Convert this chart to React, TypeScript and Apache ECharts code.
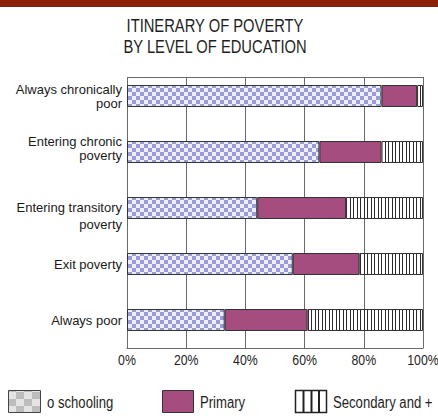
import React, { useEffect, useRef } from "react";
import * as echarts from "echarts";

const categories = [
  "Always chronically\npoor",
  "Entering chronic\npoverty",
  "Entering transitory\npoverty",
  "Exit poverty",
  "Always poor",
];
const noSchooling = [86, 65, 44, 56, 33];
const primary = [12, 21, 30, 22.5, 28];
const secondary = [2, 14, 26, 21.5, 39];
const xTicks = [0, 20, 40, 60, 80, 100];
const legendNames = ["o schooling", "Primary", "Secondary and +"];
const titleLines = ["ITINERARY OF POVERTY", "BY LEVEL OF EDUCATION"];

const FONT = "'Liberation Sans', Arial, Helvetica, sans-serif";
const NARROW_SCALE = 0.82;
const GRID = { left: 127, right: 15, top: 68, bottom: 68 };

function makeChecker(cell: number, cellH: number, c1: string, c2: string) {
  const cv = document.createElement("canvas");
  cv.width = cell * 2;
  cv.height = cellH * 2;
  const ctx = cv.getContext("2d")!;
  ctx.fillStyle = c2;
  ctx.fillRect(0, 0, cv.width, cv.height);
  ctx.fillStyle = c1;
  ctx.fillRect(0, 0, cell, cellH);
  ctx.fillRect(cell, cellH, cell, cellH);
  return cv;
}

function makeStripes() {
  const cv = document.createElement("canvas");
  cv.width = 7;
  cv.height = 4;
  const ctx = cv.getContext("2d")!;
  ctx.fillStyle = "#ffffff";
  ctx.fillRect(0, 0, 7, 4);
  ctx.fillStyle = "#2a2a2a";
  ctx.fillRect(0, 0, 1, 4);
  ctx.fillRect(3, 0, 1, 4);
  return cv;
}

function narrowText(x: number, y: number, text: string, size: number, align: string) {
  return {
    type: "text",
    x,
    y,
    scaleX: NARROW_SCALE,
    z: 100,
    style: {
      text,
      fontFamily: FONT,
      fontSize: size,
      fill: "#1e1e1e",
      textAlign: align,
      textVerticalAlign: "middle",
      verticalAlign: "middle",
    },
  };
}

export default function App() {
  const ref = useRef<HTMLDivElement>(null);
  useEffect(() => {
    if (!ref.current) return;
    const chart = echarts.init(ref.current, null, { renderer: "svg" });
    const blueChecker = { image: makeChecker(4, 4, "#9a9bd8", "#eeeffb"), repeat: "repeat" };
    const grayChecker = { image: makeChecker(8, 7, "#bdbdbd", "#e4e4e4"), repeat: "repeat" };
    const stripes = { image: makeStripes(), repeat: "repeat" };

    const barBase = {
      type: "bar",
      stack: "total",
      barWidth: 22,
      itemStyle: { borderColor: "#333", borderWidth: 1 },
    };

    const labelFormatter = (value: string, index: number) => {
      const lines = value.split("\n");
      if (index === 1) return lines.map((l) => "{n|" + l + "}").join("\n") + "\n{s7| }";
      if (index === 2) return "{s15| }\n" + lines.map((l) => "{t|" + l + "}").join("\n");
      return lines.map((l) => "{n|" + l + "}").join("\n");
    };

    const base = { fontFamily: FONT, fontSize: 13, color: "#1a1a1a" };

    chart.setOption({
      animation: false,
      backgroundColor: "#ffffff",
      grid: { ...GRID, containLabel: false, outerBoundsMode: "none" },
      xAxis: {
        type: "value",
        min: 0,
        max: 100,
        interval: 20,
        axisLine: { show: true, lineStyle: { color: "#6a6a6a", width: 1 } },
        axisTick: { show: false },
        splitLine: { show: true, lineStyle: { color: "#6a6a6a", width: 1 } },
        axisLabel: { show: false },
      },
      yAxis: {
        type: "category",
        inverse: true,
        data: categories,
        axisLine: { show: true, lineStyle: { color: "#6a6a6a", width: 1 } },
        axisTick: { show: false },
        axisLabel: {
          ...base,
          lineHeight: 14,
          margin: 5,
          formatter: labelFormatter,
          rich: {
            n: { ...base, lineHeight: 14 },
            t: { ...base, lineHeight: 17 },
            s7: { fontSize: 1, lineHeight: 7 },
            s15: { fontSize: 1, lineHeight: 15 },
          },
        },
      },
      series: [
        { ...barBase, name: legendNames[0], data: noSchooling, itemStyle: { ...barBase.itemStyle, color: blueChecker } },
        { ...barBase, name: legendNames[1], data: primary, itemStyle: { ...barBase.itemStyle, color: "#a64d7f" } },
        { ...barBase, name: legendNames[2], data: secondary, itemStyle: { ...barBase.itemStyle, color: stripes } },
      ],
    });

    const axisY = 416 - GRID.bottom;
    const tickLabels = xTicks.map((v) => {
      const px = chart.convertToPixel({ xAxisIndex: 0 }, v) as number;
      return narrowText(px, axisY + 12, v + "%", 15, "center");
    });
    const x0 = chart.convertToPixel({ xAxisIndex: 0 }, 0) as number;
    const x100 = chart.convertToPixel({ xAxisIndex: 0 }, 100) as number;

    chart.setOption({
      graphic: [
        { type: "rect", shape: { x: 0, y: 0, width: 438, height: 7 }, style: { fill: "#8b1f08" }, z: 100 },
        { type: "rect", shape: { x: x0 - 3, y: 64, width: x100 - x0 + 8, height: 13 }, style: { fill: "#ffffff" }, z: 100 },
        { type: "line", shape: { x1: x0, y1: 77.5, x2: x100 + 0.5, y2: 77.5 }, style: { stroke: "#6a6a6a", lineWidth: 1 }, z: 100 },
        narrowText(215, 25.5, titleLines[0], 18, "center"),
        narrowText(215, 46.5, titleLines[1], 18, "center"),
        ...tickLabels,
        // legend
        { type: "rect", shape: { x: 8.5, y: 390.5, width: 32, height: 22 }, style: { fill: grayChecker, stroke: "#444", lineWidth: 1 }, z: 100 },
        narrowText(47, 402.5, legendNames[0], 16, "left"),
        { type: "rect", shape: { x: 162.5, y: 390.5, width: 31, height: 22 }, style: { fill: "#a64d7f", stroke: "#333", lineWidth: 1 }, z: 100 },
        narrowText(200, 402.5, legendNames[1], 16, "left"),
        { type: "rect", shape: { x: 295.5, y: 390.5, width: 31, height: 22 }, style: { fill: "#ffffff", stroke: "#222", lineWidth: 1.5 }, z: 100 },
        { type: "line", shape: { x1: 303.5, y1: 390.5, x2: 303.5, y2: 412.5 }, style: { stroke: "#222", lineWidth: 2 }, z: 101 },
        { type: "line", shape: { x1: 311.5, y1: 390.5, x2: 311.5, y2: 412.5 }, style: { stroke: "#222", lineWidth: 2 }, z: 101 },
        { type: "line", shape: { x1: 319, y1: 390.5, x2: 319, y2: 412.5 }, style: { stroke: "#222", lineWidth: 2 }, z: 101 },
        narrowText(333, 402.5, legendNames[2], 16, "left"),
      ],
    });
    return () => chart.dispose();
  }, []);
  return (
    <div
      ref={ref}
      style={{ position: "absolute", left: 0, top: 0, width: 438, height: 416 }}
    />
  );
}
